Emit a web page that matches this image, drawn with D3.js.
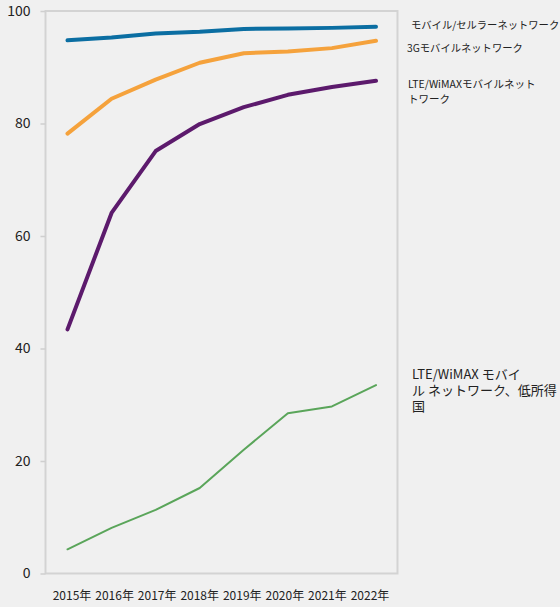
<!DOCTYPE html>
<html>
<head>
<meta charset="utf-8">
<script src="https://cdn.jsdelivr.net/npm/d3@7"></script>
<style>
  body { margin: 0; background: #f0f0f0; }
  svg { display: block; font-family: "Noto Sans CJK JP", "Noto Sans", sans-serif; }
</style>
</head>
<body>
<script>
// years on the x axis
var years = [2015, 2016, 2017, 2018, 2019, 2020, 2021, 2022];
var yearLabels = ["2015年", "2016年", "2017年", "2018年", "2019年", "2020年", "2021年", "2022年"];
var yTicks = [0, 20, 40, 60, 80, 100];

// series values (% of population covered)
var mobileCell = [94.8, 95.3, 96.0, 96.3, 96.8, 96.9, 97.0, 97.2];
var mobile3G = [78.2, 84.4, 87.8, 90.8, 92.5, 92.8, 93.4, 94.7];
var lteWimax = [43.4, 64.1, 75.1, 79.9, 82.9, 85.1, 86.5, 87.6];
var lteLowIncome = [4.3, 8.1, 11.3, 15.2, 22.0, 28.5, 29.7, 33.5];

var seriesNames = [
  ["モバイル/セルラーネットワーク"],
  ["3Gモバイルネットワーク"],
  ["LTE/WiMAXモバイルネット", "トワーク"],
  ["LTE/WiMAX モバイ", "ル ネットワーク、低所得", "国"]
];

var series = [
  {values: mobileCell, name: seriesNames[0], color: "#0b6ea2", width: 4, lx: 411, ly: 29, fs: 10.3, lh: 14},
  {values: mobile3G, name: seriesNames[1], color: "#f5a23c", width: 4, lx: 407, ly: 52, fs: 10.3, lh: 14},
  {values: lteWimax, name: seriesNames[2], color: "#5c1a6c", width: 4, lx: 408, ly: 88, fs: 10.5, lh: 14.5},
  {values: lteLowIncome, name: seriesNames[3], color: "#5aa55a", width: 2, lx: 412, ly: 379, fs: 13, lh: 16}
];

var width = 560, height = 607;

var svg = d3.select("body").append("svg")
  .attr("width", width)
  .attr("height", height);

var x = d3.scalePoint().domain(years).range([67.5, 376]);
// labels sit a little tighter than the data points
var xLab = d3.scalePoint().domain(years).range([72, 370]);
var y = d3.scaleLinear().domain([0, 100]).range([573.5, 11]);

// frame
svg.append("rect")
  .attr("x", 45.5).attr("y", 11)
  .attr("width", 397.5 - 45.5).attr("height", 573.5 - 11)
  .attr("fill", "none")
  .attr("stroke", "#d3d3d3")
  .attr("stroke-width", 2);

// y axis
var yAxis = svg.append("g")
  .attr("transform", "translate(45.5,0)")
  .call(d3.axisLeft(y).tickValues(yTicks).tickSize(5).tickPadding(10));
yAxis.select(".domain").remove();
yAxis.selectAll(".tick line").attr("stroke", "#cfcfcf").attr("stroke-width", 1.5);
yAxis.selectAll(".tick text")
  .attr("fill", "#222")
  .style("font-size", "14px")
  .style("font-family", "'Noto Sans CJK JP', 'Noto Sans', sans-serif");

// x labels
svg.append("g").selectAll("text")
  .data(years)
  .enter()
  .append("text")
  .attr("x", function(d){ return xLab(d); })
  .attr("y", 600)
  .attr("text-anchor", "middle")
  .attr("fill", "#222")
  .style("font-size", "12px")
  .text(function(d, i){ return yearLabels[i]; });

var line = d3.line()
  .x(function(d, i){ return x(years[i]); })
  .y(function(d){ return y(d); });

svg.append("g").selectAll("path")
  .data(series)
  .enter()
  .append("path")
  .attr("d", function(d){ return line(d.values); })
  .attr("fill", "none")
  .attr("stroke", function(d){ return d.color; })
  .attr("stroke-width", function(d){ return d.width; })
  .attr("stroke-linecap", "round")
  .attr("stroke-linejoin", "round");

// series labels on the right
series.forEach(function(s){
  var t = svg.append("text")
    .attr("x", s.lx)
    .attr("y", s.ly)
    .attr("fill", "#222")
    .style("font-size", s.fs + "px");
  s.name.forEach(function(ln, i){
    t.append("tspan")
      .attr("x", s.lx)
      .attr("dy", i == 0 ? 0 : s.lh)
      .text(ln);
  });
});
</script>
</body>
</html>
